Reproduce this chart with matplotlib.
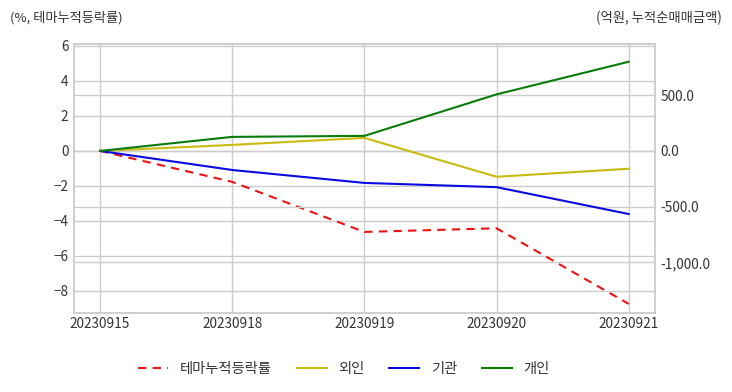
import matplotlib
matplotlib.use("Agg")
import matplotlib.pyplot as plt
from matplotlib.ticker import FuncFormatter, FixedLocator

plt.rcParams['font.family'] = ['Noto Sans CJK KR', 'DejaVu Sans']

dates = ['20230915', '20230918', '20230919', '20230920', '20230921']
theme_rate = [0.0, -1.77, -4.63, -4.42, -8.74]
foreign = [0.0, 54, 117, -232, -160]
institution = [0.0, -171, -287, -325, -566]
individual = [0.0, 126, 135, 507, 800]

left_ticks = [-8, -6, -4, -2, 0, 2, 4, 6]
right_ticks = [-1000, -500, 0, 500]

fig = plt.figure(figsize=(7.32, 3.92), dpi=100)
ax = fig.add_axes([0.101, 0.2015, 0.794, 0.6865])
ax2 = ax.twinx()

x = list(range(len(dates)))
grid_c = '#cccccc'
text_c = '#333333'

l1, = ax.plot(x, theme_rate, color='#ee1111', lw=1.5, ls=(0, (4, 3)), label='테마누적등락률')
l2, = ax2.plot(x, foreign, color='#c8bb10', lw=1.5, label='외인')
l3, = ax2.plot(x, institution, color='#0a0ae0', lw=1.5, label='기관')
l4, = ax2.plot(x, individual, color='#0a7a0a', lw=1.5, label='개인')

ax.set_xlim(-0.197, 4.2)
ax.set_ylim(-9.26, 6.11)
ax2.set_ylim(-1454, 960)

ax.set_xticks(x)
ax.set_xticklabels(dates)
ax.yaxis.set_major_locator(FixedLocator(left_ticks))
ax2.yaxis.set_major_locator(FixedLocator(right_ticks))
ax2.yaxis.set_major_formatter(FuncFormatter(lambda v, p: f'{v:,.1f}'))

for a in (ax, ax2):
    a.grid(True, color=grid_c, lw=1.0)
    a.set_axisbelow(True)
    a.tick_params(length=0, labelsize=9.8, colors=text_c, pad=4)
for s in ax.spines.values():
    s.set_color(grid_c)
    s.set_linewidth(1.3)
for s in ax2.spines.values():
    s.set_visible(False)
ax2.xaxis.grid(False)
ax.tick_params(axis='x', pad=3)

fig.text(0.013, 0.955, '(%, 테마누적등락률)', fontsize=9.5, color=text_c, ha='left', va='center')
fig.text(0.986, 0.955, '(억원, 누적순매매금액)', fontsize=9.6, color=text_c, ha='right', va='center')

fig.legend(handles=[l1, l2, l3, l4], loc='center', bbox_to_anchor=(0.47, 0.058), ncol=4,
           frameon=False, fontsize=10.3, handlelength=2.1, columnspacing=1.75, handletextpad=0.8,
           labelcolor=text_c)

fig.savefig('out.png', dpi=100)
